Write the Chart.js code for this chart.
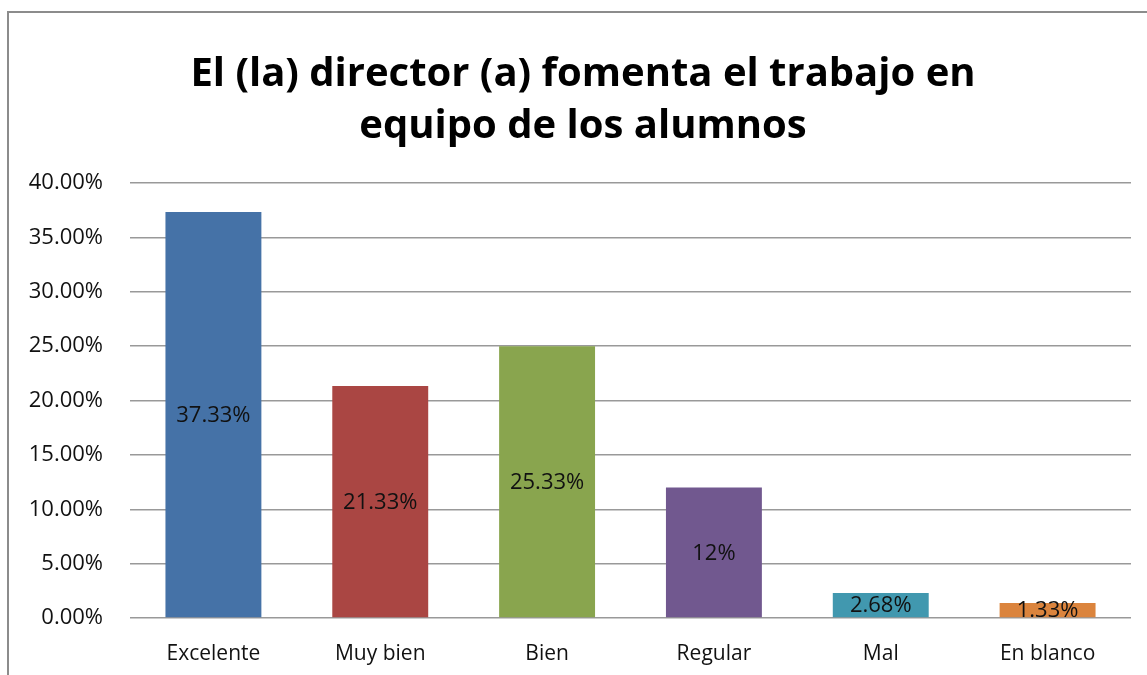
<!DOCTYPE html>
<html>
<head>
<meta charset="utf-8">
<script src="https://cdn.jsdelivr.net/npm/chart.js@4/dist/chart.umd.min.js"></script>
<style>
  html, body { margin: 0; padding: 0; background: #fff; overflow: hidden; }
  .wrap { position: relative; width: 1147px; height: 675px; }
  .frame { position: absolute; left: 7px; top: 11px; width: 1200px; height: 700px; border: 2px solid #8c8c8c; box-sizing: border-box; }
  canvas { position: absolute; left: 0; top: 0; }
</style>
</head>
<body>
<div class="wrap">
  <div class="frame"></div>
  <canvas id="chart" width="1147" height="675"></canvas>
</div>
<script>
// Data
const categories = ['Excelente', 'Muy bien', 'Bien', 'Regular', 'Mal', 'En blanco'];
const values = [37.33, 21.33, 25.0, 12.0, 2.3, 1.38];
const valueLabels = ['37.33%', '21.33%', '25.33%', '12%', '2.68%', '1.33%'];
const barColors = ['#4572A7', '#AA4643', '#89A54E', '#71588F', '#4198AF', '#DB843D'];
const titleLines = ['El (la) director (a) fomenta el trabajo en', 'equipo de los alumnos'];

const FONT = '"Open Sans", Lato, sans-serif';

// title sits a bit right of the plot centre, so draw it by hand
const chartTitle = {
    id: 'chartTitle',
    afterDraw(chart) {
        const ctx = chart.ctx;
        ctx.save();
        ctx.font = 'bold 40px ' + FONT;
        ctx.fillStyle = '#000';
        ctx.textAlign = 'center';
        ctx.textBaseline = 'middle';
        titleLines.forEach((line, i) => {
            ctx.fillText(line, 583, 75 + i * 52);
        });
        ctx.restore();
    }
};

// draw the labels in the middle of each bar
const barLabels = {
    id: 'barLabels',
    afterDatasetsDraw(chart) {
        const ctx = chart.ctx;
        const meta = chart.getDatasetMeta(0);
        ctx.save();
        ctx.font = '22px ' + FONT;
        ctx.fillStyle = '#111';
        ctx.textAlign = 'center';
        ctx.textBaseline = 'middle';
        meta.data.forEach((bar, i) => {
            const mid = (bar.y + bar.base) / 2;
            ctx.fillText(valueLabels[i], bar.x, mid + 1);
        });
        ctx.restore();
    }
};

const ctx = document.getElementById('chart').getContext('2d');
const chart = new Chart(ctx, {
    type: 'bar',
    data: {
        labels: categories,
        datasets: [{
            data: values,
            backgroundColor: barColors,
            borderWidth: 0,
            barPercentage: 0.575,
            categoryPercentage: 1
        }]
    },
    options: {
        responsive: false,
        animation: false,
        layout: { padding: { left: 8, right: 16, top: 183, bottom: 0 } },
        plugins: {
            legend: { display: false },
            tooltip: { enabled: false },
            title: { display: false }
        },
        scales: {
            y: {
                min: 0,
                max: 40,
                ticks: {
                    stepSize: 5,
                    padding: 27,
                    color: '#111',
                    font: { size: 22, family: FONT },
                    callback: v => v.toFixed(2) + '%'
                },
                grid: { color: '#999', lineWidth: 1.5, drawTicks: false },
                border: { display: false },
                afterFit: s => { s.width = 122; }
            },
            x: {
                ticks: {
                    padding: 23,
                    color: '#111',
                    font: { size: 21, family: FONT }
                },
                grid: { display: false, drawTicks: false },
                border: { display: false },
                afterFit: s => { s.height = 57; }
            }
        }
    },
    plugins: [barLabels, chartTitle]
});
</script>
</body>
</html>
